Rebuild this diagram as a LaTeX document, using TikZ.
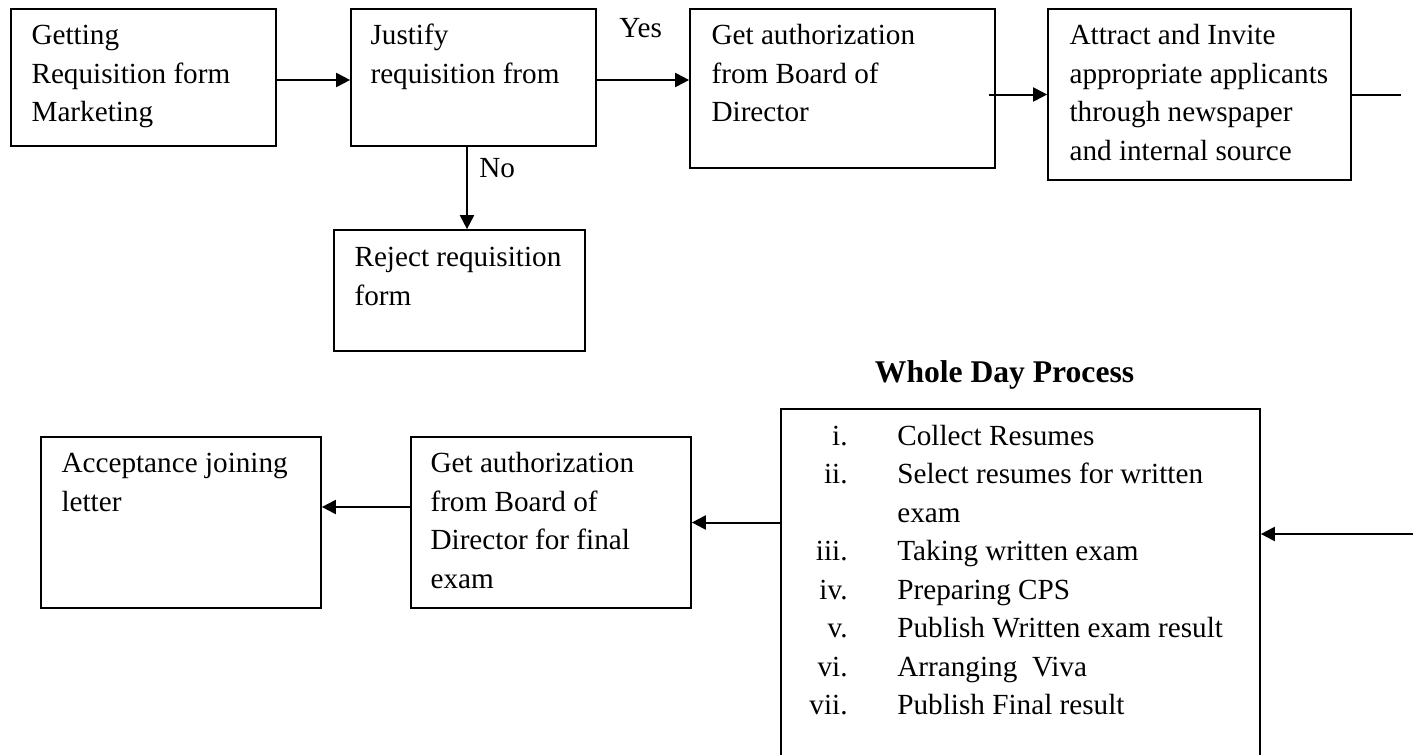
\documentclass[tikz,border=0pt]{standalone}
\usepackage{fontspec}
\setmainfont{Liberation Serif}
\usetikzlibrary{arrows.meta,calc,fit}
% first-line strut: puts the first baseline 18pt below the top of a text block
\newcommand\firstln{\rule{0pt}{18pt}}
\begin{document}
\begin{tikzpicture}[x=0.5pt,y=-0.5pt,
  box/.style={draw=black, line width=0.85pt, inner sep=0pt},
  txt/.style={anchor=north west, inner sep=0pt, align=left,
              font=\fontsize{14.6pt}{19.25pt}\selectfont},
  lbl/.style={anchor=base west, inner sep=0pt,
              font=\fontsize{14.6pt}{19.25pt}\selectfont},
  arr/.style={line width=1pt, -{Triangle[length=7pt,width=7pt]}},
  link/.style={line width=1pt}]
\path[use as bounding box, fill=white] (0,0) rectangle (1421,755);
\clip (0,0) rectangle (1421,755);

% ---- top row ----
\node[box, fit={(11,9) (276,146)}] (A) {};
\node[txt] (At) at ($(A.north west)+(21,0)$) {\firstln Getting\\Requisition form\\Marketing};

\node[box, fit={(351,9) (596,146)}] (B) {};
\node[txt] (Bt) at ($(B.north west)+(20,0)$) {\firstln Justify\\requisition from};

\node[box, fit={(690,9) (995,168)}] (C) {};
\node[txt] (Ct) at ($(C.north west)+(22,0)$) {\firstln Get authorization\\from Board of\\Director};

\node[box, fit={(1048,9) (1351,180)}] (D) {};
\node[txt] (Dt) at ($(D.north west)+(22,0)$) {\firstln Attract and Invite\\appropriate applicants\\through newspaper\\and internal source};

\node[box, fit={(334,230) (585,351)}] (R) {};
\node[txt] (Rt) at ($(R.north west)+(21,1)$) {\firstln Reject requisition\\form};

\node[lbl] (yes) at (619,37) {Yes};
\node[lbl] (no) at (479,177) {No};

% ---- bottom row ----
\node[box, fit={(41,437) (321,608)}] (E) {};
\node[txt] (Et) at ($(E.north west)+(21,0)$) {\firstln Acceptance joining\\letter};

\node[box, fit={(411,437) (691,608)}] (F) {};
\node[txt] (Ft) at ($(F.north west)+(20,0)$) {\firstln Get authorization\\from Board of\\Director for final\\exam};

\node[box, fit={(781,409) (1260,770)}] (G) {};
\node[anchor=base, inner sep=0pt, font=\bfseries\fontsize{15.8pt}{19pt}\selectfont]
  (title) at (1004.5,382) {Whole Day Process};
\node[txt, anchor=north east, align=right] (Gn) at (848,409)
  {\firstln i.\\ii.\\\mbox{}\\iii.\\iv.\\v.\\vi.\\vii.};
\node[txt] (Gi) at (897,409)
  {\firstln Collect Resumes\\Select resumes for written\\exam\\Taking written exam\\Preparing CPS\\Publish Written exam result\\Arranging\ \ Viva\\Publish Final result};

% ---- connectors ----
\coordinate (Dout) at (1401,93);
\coordinate (Gin) at (1413,534);

\draw[arr] ($(A.east)+(0,2.5)$) -- ($(A.east -| B.west)+(0,2.5)$);
\draw[arr] ($(B.east)+(0,2.5)$) -- ($(B.east -| C.west)+(0,2.5)$);
\draw[arr] ($(C.east |- D.west)+(-7,0)$) -- (D.west);
\draw[link] (D.east) -- (D.east -| Dout);
\draw[arr] ($(B.south)+(-6.5,0)$) -- ($(B.south |- R.north)+(-6.5,0)$);

\draw[arr] (Gin) -- (Gin -| G.east);
\draw[arr] (G.west |- F.east) -- (F.east);
\draw[arr] ($(F.west)+(0,-15.5)$) -- ($(F.west -| E.east)+(0,-15.5)$);
\end{tikzpicture}
\end{document}
